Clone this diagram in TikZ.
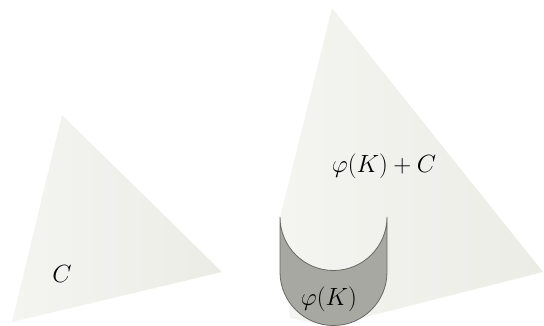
\documentclass[tikz,border=0pt]{standalone}
\usepackage{tikz}
\definecolor{paper}{RGB}{236,236,231}
\definecolor{paperlight}{RGB}{244,244,240}
\definecolor{capfill}{RGB}{168,168,162}
\definecolor{capline}{RGB}{105,105,100}
\tikzset{
  cone/.style={left color=paperlight, right color=paper, draw=none},
  capshape/.style={fill=capfill, draw=capline, line width=0.8pt},
  lbl/.style={inner sep=0pt, font=\fontsize{24}{28}\selectfont}
}
\begin{document}
\begin{tikzpicture}[x=1pt,y=-1pt]
\useasboundingbox (0,0) rectangle (544,326);
% left triangle C
\shade[cone] (62,115) -- (222,272) -- (12,322) -- cycle;
% right triangle phi(K)+C
\shade[cone] (332,8) -- (543,272) -- (330,326) -- (290,318) -- (280,218) -- cycle;
% cap phi(K)
\draw[capshape] (280,217) -- (280,272) arc[start angle=180, end angle=0, radius=53.5]
  -- (387,217) arc[start angle=0, end angle=180, radius=53.5] -- cycle;
\node[lbl] (c) at (62,274) {$C$};
\node[lbl] (sum) at (384,166) {$\varphi(K)+C$};
\node[lbl] (k) at (329,299) {$\varphi(K)$};
\end{tikzpicture}
\end{document}
